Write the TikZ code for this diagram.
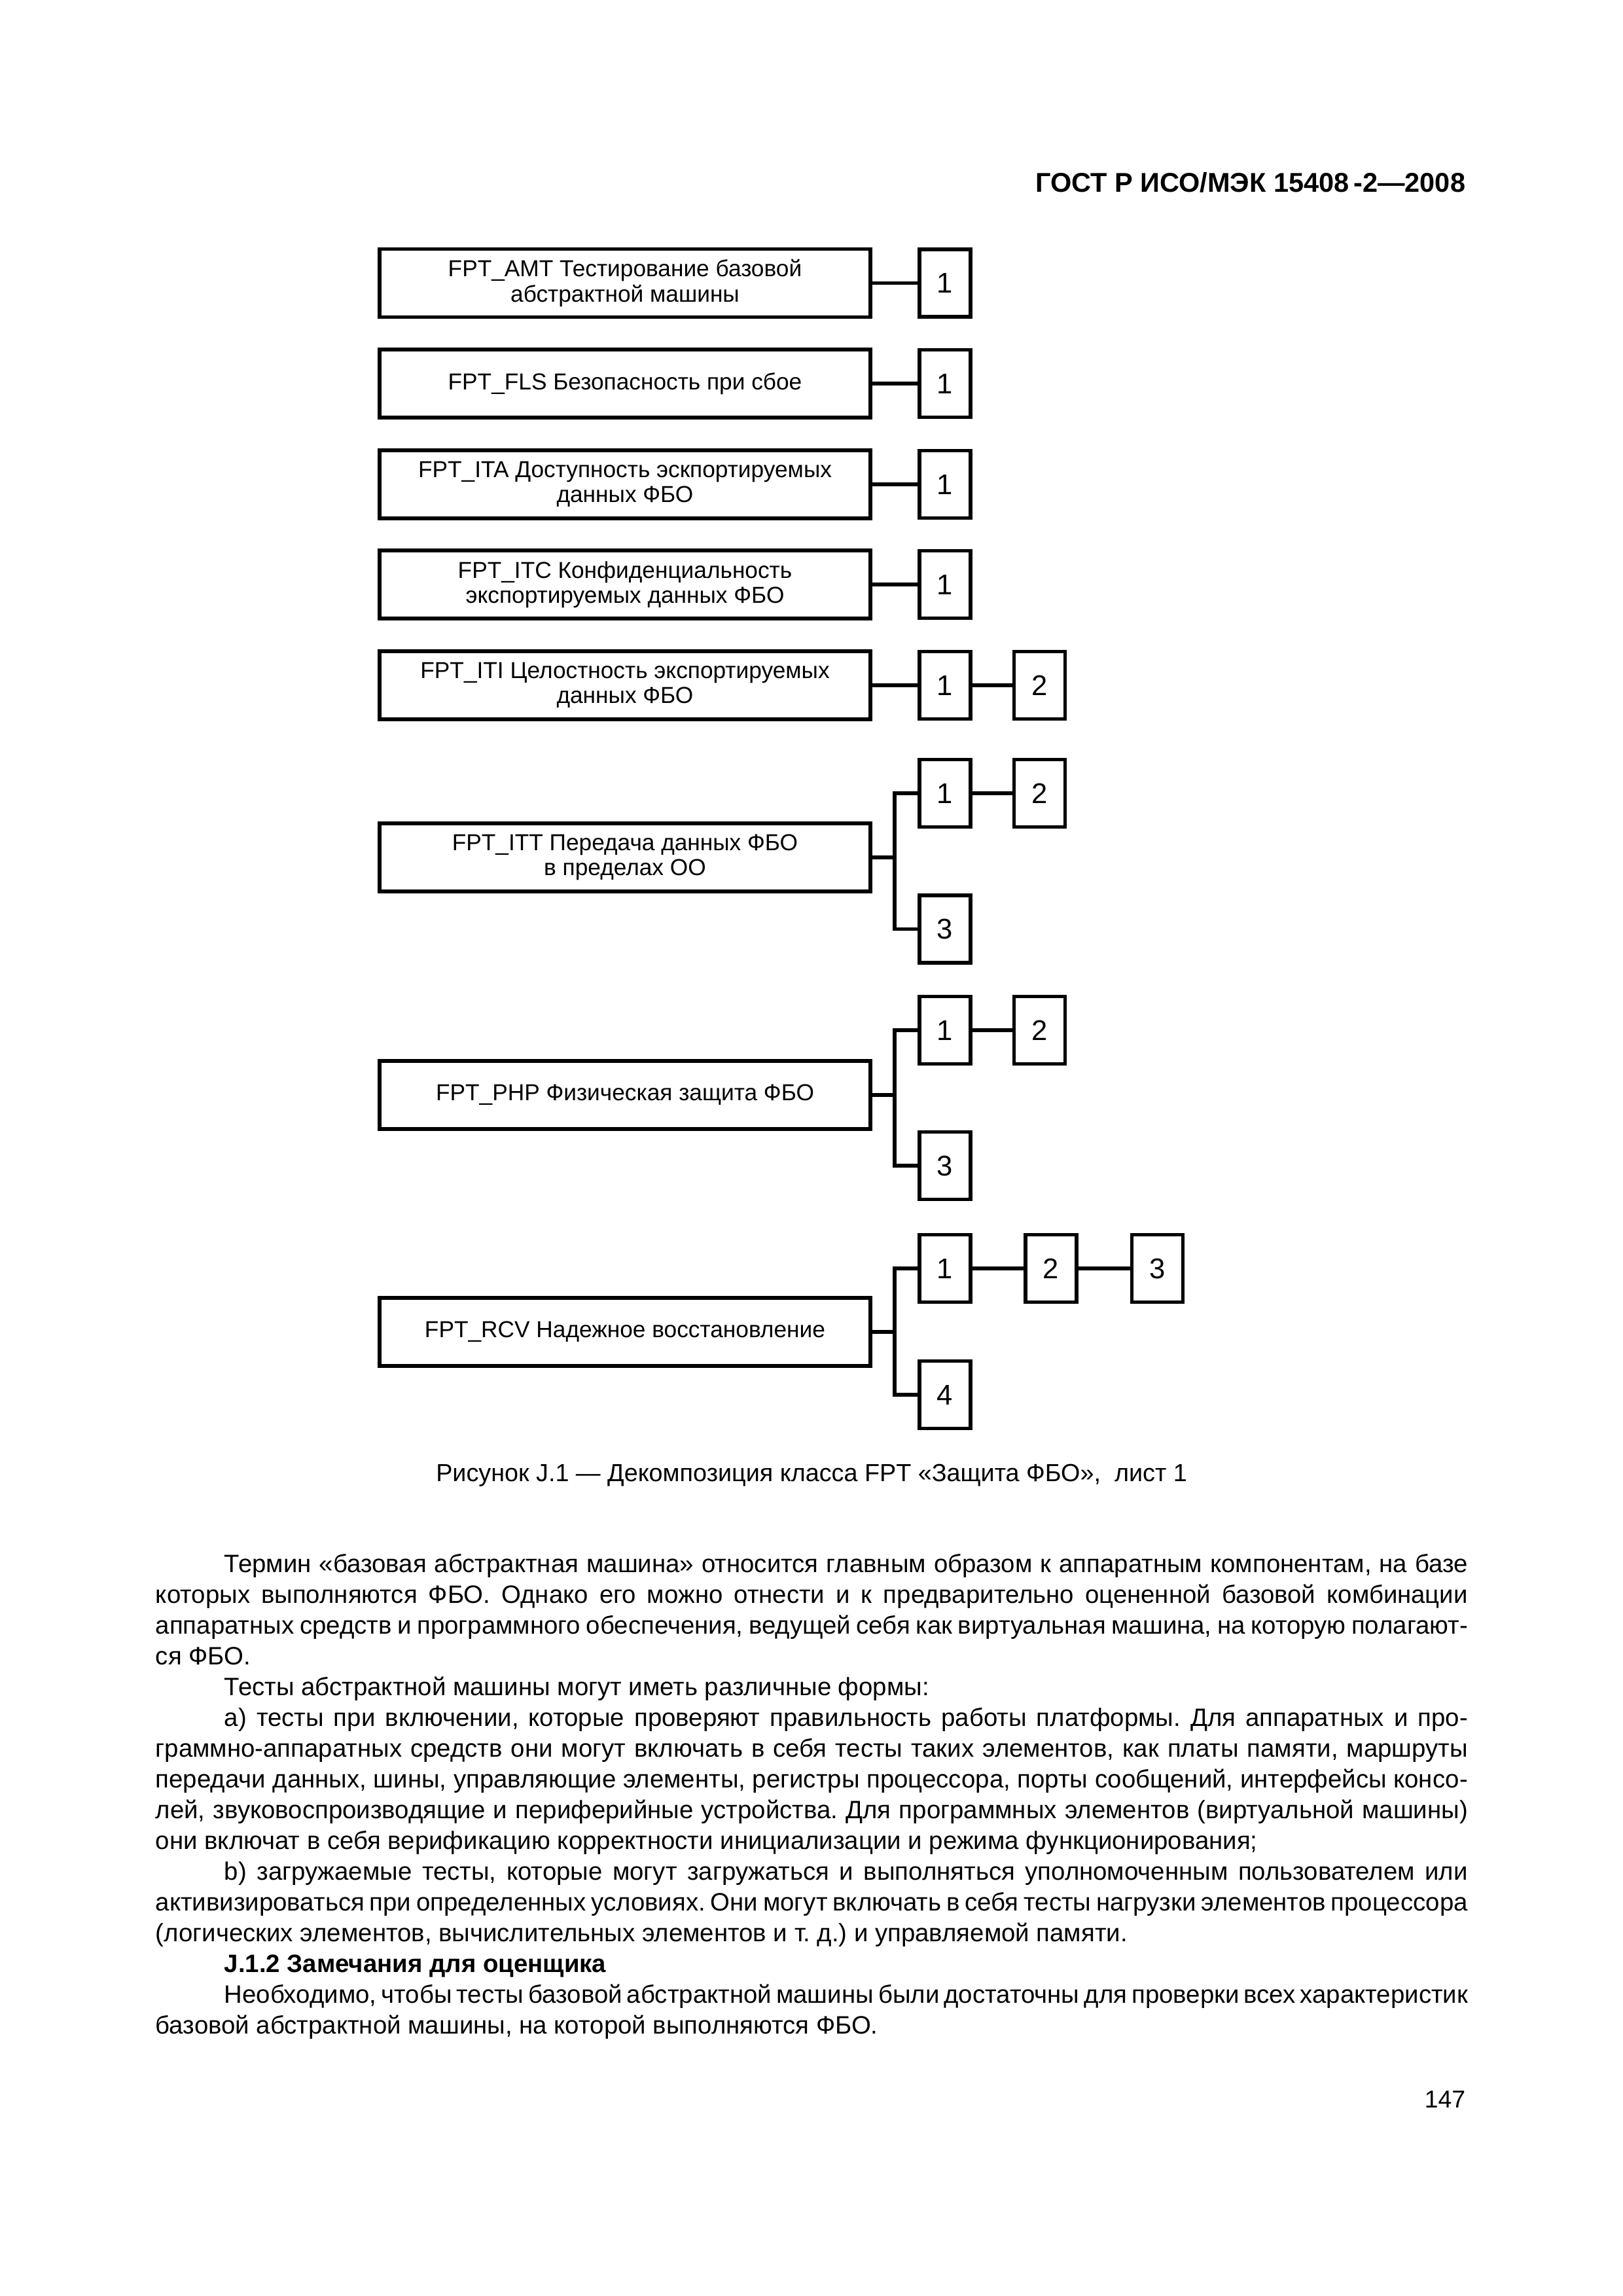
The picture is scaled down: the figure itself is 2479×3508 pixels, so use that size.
\documentclass[tikz,border=0pt]{standalone}
\usepackage{fontspec}
\setmainfont{Liberation Sans}
\frenchspacing
\begin{document}
\frenchspacing
\begin{tikzpicture}[x=0.084711mm, y=-0.084711mm]
\tikzset{
  bigbox/.style={draw, line width=0.44mm, minimum width=63.53mm, minimum height=8.81mm,
    inner sep=0pt, align=center, font=\fontsize{8.5}{9.2}\selectfont},
  numbox/.style={draw, line width=0.44mm, minimum width=6.61mm, minimum height=8.73mm,
    inner sep=0pt, font=\fontsize{10.5}{12}\selectfont},
  conn/.style={line width=0.44mm},
  bodyline/.style={anchor=base west, inner sep=0pt, font=\fontsize{9.25}{11}\selectfont},
}
\useasboundingbox[fill=white] (0,0) rectangle (2479,3508);

% header
\node[anchor=base east, inner sep=0pt, font=\fontsize{10}{12}\selectfont\bfseries] (hdr) at (2240,293)
  {ГОСТ Р ИСО/МЭК 15408\,-2—2008};

% big boxes
\node[bigbox] (amt) at (955,432.5) {FPT\_AMT Тестирование базовой\\абстрактной машины};
\node[bigbox] (fls) at (955,586) {FPT\_FLS Безопасность при сбое};
\node[bigbox] (ita) at (955,740) {FPT\_ITA Доступность эскпортируемых\\данных ФБО};
\node[bigbox] (itc) at (955,893) {FPT\_ITC Конфиденциальность\\экспортируемых данных ФБО};
\node[bigbox] (iti) at (955,1047) {FPT\_ITI Целостность экспортируемых\\данных ФБО};
\node[bigbox] (itt) at (955,1310) {FPT\_ITT Передача данных ФБО\\в пределах ОО};
\node[bigbox] (php) at (955,1673) {FPT\_PHP Физическая защита ФБО};
\node[bigbox] (rcv) at (955,2035) {FPT\_RCV Надежное восстановление};

% number boxes
\node[numbox] (amt1) at (1444,432.5) {1};
\node[numbox] (fls1) at (1444,586) {1};
\node[numbox] (ita1) at (1444,740) {1};
\node[numbox] (itc1) at (1444,893) {1};
\node[numbox] (iti1) at (1444,1047) {1};
\node[numbox] (iti2) at (1588.5,1047) {2};
\node[numbox] (itt1) at (1444,1212) {1};
\node[numbox] (itt2) at (1588.5,1212) {2};
\node[numbox] (itt3) at (1444,1419.5) {3};
\node[numbox] (php1) at (1444,1574) {1};
\node[numbox] (php2) at (1588.5,1574) {2};
\node[numbox] (php3) at (1444,1781) {3};
\node[numbox] (rcv1) at (1444,1938) {1};
\node[numbox] (rcv2) at (1606,1938) {2};
\node[numbox] (rcv3) at (1768.5,1938) {3};
\node[numbox] (rcv4) at (1444,2131) {4};

% simple connectors
\draw[conn] (amt.east) -- (amt1.west);
\draw[conn] (fls.east) -- (fls1.west);
\draw[conn] (ita.east) -- (ita1.west);
\draw[conn] (itc.east) -- (itc1.west);
\draw[conn] (iti.east) -- (iti1.west);
\draw[conn] (iti1.east) -- (iti2.west);
\draw[conn] (itt1.east) -- (itt2.west);
\draw[conn] (php1.east) -- (php2.west);
\draw[conn] (rcv1.east) -- (rcv2.west);
\draw[conn] (rcv2.east) -- (rcv3.west);

% branching connectors
\coordinate (ittj) at (1367,1310);
\coordinate (phpj) at (1367,1673);
\coordinate (rcvj) at (1367,2035);
\draw[conn] (itt.east) -- (ittj);
\draw[conn] (itt1.west) -| (ittj) |- (itt3.west);
\draw[conn] (php.east) -- (phpj);
\draw[conn] (php1.west) -| (phpj) |- (php3.west);
\draw[conn] (rcv.east) -- (rcvj);
\draw[conn] (rcv1.west) -| (rcvj) |- (rcv4.west);

% caption
\node[anchor=base, inner sep=0pt, font=\fontsize{9.1}{11}\selectfont] (cap) at (1240,2263)
  {Рисунок J.1 — Декомпозиция класса FPT «Защита ФБО»,\ \ лист 1};

% body text
\node[bodyline] (l1) at (342,2402) {\makebox[160.95mm][s]{Термин «базовая абстрактная машина» относится главным образом к аппаратным компонентам, на базе}};
\node[bodyline] (l2) at (237,2449) {\makebox[169.85mm][s]{которых выполняются ФБО. Однако его можно отнести и к предварительно оцененной базовой комбинации}};
\node[bodyline] (l3) at (237,2496) {\makebox[169.85mm][s]{аппаратных средств и программного обеспечения, ведущей себя как виртуальная машина, на которую полагают-}};
\node[bodyline] (l4) at (237,2543) {ся ФБО.};
\node[bodyline] (l5) at (342,2590) {Тесты абстрактной машины могут иметь различные формы:};
\node[bodyline] (l6) at (342,2637) {\makebox[160.95mm][s]{a) тесты при включении, которые проверяют правильность работы платформы. Для аппаратных и про-}};
\node[bodyline] (l7) at (237,2684) {\makebox[169.85mm][s]{граммно-аппаратных средств они могут включать в себя тесты таких элементов, как платы памяти, маршруты}};
\node[bodyline] (l8) at (237,2731) {\makebox[169.85mm][s]{передачи данных, шины, управляющие элементы, регистры процессора, порты сообщений, интерфейсы консо-}};
\node[bodyline] (l9) at (237,2778) {\makebox[169.85mm][s]{лей, звуковоспроизводящие и периферийные устройства. Для программных элементов (виртуальной машины)}};
\node[bodyline] (l10) at (237,2825) {они включат в себя верификацию корректности инициализации и режима функционирования;};
\node[bodyline] (l11) at (342,2872) {\makebox[160.95mm][s]{b) загружаемые тесты, которые могут загружаться и выполняться уполномоченным пользователем или}};
\node[bodyline] (l12) at (237,2919) {\makebox[169.85mm][s]{активизироваться при определенных условиях. Они могут включать в себя тесты нагрузки элементов процессора}};
\node[bodyline] (l13) at (237,2966) {(логических элементов, вычислительных элементов и т. д.) и управляемой памяти.};
\node[bodyline, font=\fontsize{9.25}{11}\selectfont\bfseries] (l14) at (342,3013) {J.1.2 Замечания для оценщика};
\node[bodyline] (l15) at (342,3060) {\makebox[160.95mm][s]{Необходимо, чтобы тесты базовой абстрактной машины были достаточны для проверки всех характеристик}};
\node[bodyline] (l16) at (237,3107) {базовой абстрактной машины, на которой выполняются ФБО.};

% page number
\node[anchor=base east, inner sep=0pt, font=\fontsize{9}{11}\selectfont] (pg) at (2240,3220) {147};
\end{tikzpicture}
\end{document}
